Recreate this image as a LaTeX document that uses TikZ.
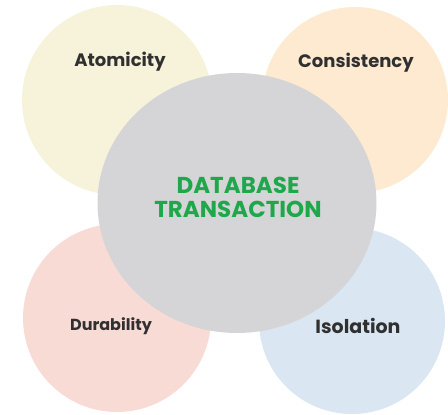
\documentclass[tikz,border=0pt]{standalone}
\usepackage{fontspec}
\setmainfont{Poppins}
\usetikzlibrary{shapes.geometric}

\definecolor{atomfill}{HTML}{F6F3DA}
\definecolor{consfill}{HTML}{FDEAD0}
\definecolor{durafill}{HTML}{F8DBD5}
\definecolor{isolfill}{HTML}{DAE6F1}
\definecolor{corefill}{HTML}{D5D5D7}
\definecolor{coretext}{HTML}{1EA84B}
\definecolor{proptext}{HTML}{303030}

\tikzset{
  bubble/.style={circle, inner sep=0pt},
  prop/.style={font=\bfseries\fontsize{18}{21}\selectfont, text=proptext},
}

\begin{document}
\begin{tikzpicture}[x=1pt,y=-1pt]
      \useasboundingbox (0,0) rectangle (448,415);
      % the four properties
      \node[bubble, fill=atomfill, minimum size=190pt] (A) at (117,100) {};
      \node[bubble, fill=consfill, minimum size=186pt] (C) at (355,100) {};
      \node[bubble, fill=durafill, minimum size=188pt] (D) at (117,318) {};
      \node[bubble, fill=isolfill, minimum size=186pt] (I) at (352,321) {};
      % transaction in the middle
      \node[ellipse, inner sep=0pt, fill=corefill, minimum width=279pt,
        minimum height=260pt] (T) at (237,203) {};
      \node[align=center, text=coretext,
        font=\bfseries\fontsize{23}{24}\selectfont] (Tlabel) at (238,197)
        {DATABASE\\TRANSACTION};
      \node[prop] (Alabel) at (120,62) {Atomicity};
      \node[prop] (Clabel) at (356,63) {Consistency};
      \node[prop, font=\bfseries\fontsize{16}{19}\selectfont] (Dlabel) at (111,326) {Durability};
      \node[prop, font=\bfseries\fontsize{19}{22}\selectfont] (Ilabel) at (358,326) {Isolation};
    \end{tikzpicture}
\end{document}
